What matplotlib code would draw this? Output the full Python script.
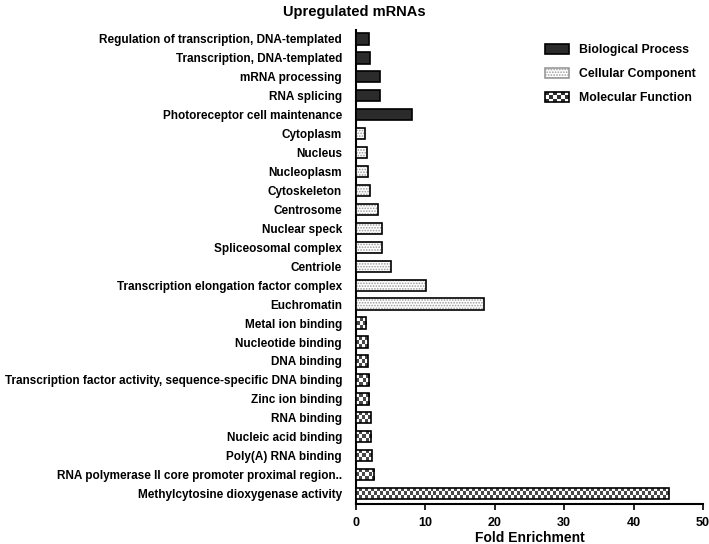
import numpy as np
import matplotlib
matplotlib.use("Agg")
import matplotlib.pyplot as plt
from matplotlib.patches import Patch, Rectangle
from matplotlib.legend_handler import HandlerBase

plt.rcParams['font.family'] = ['Liberation Sans', 'DejaVu Sans']
plt.rcParams['font.weight'] = 'bold'
plt.rcParams['hatch.linewidth'] = 0.8

categories = [
    "Regulation of transcription, DNA-templated",
    "Transcription, DNA-templated",
    "mRNA processing",
    "RNA splicing",
    "Photoreceptor cell maintenance",
    "Cytoplasm",
    "Nucleus",
    "Nucleoplasm",
    "Cytoskeleton",
    "Centrosome",
    "Nuclear speck",
    "Spliceosomal complex",
    "Centriole",
    "Transcription elongation factor complex",
    "Euchromatin",
    "Metal ion binding",
    "Nucleotide binding",
    "DNA binding",
    "Transcription factor activity, sequence-specific DNA binding",
    "Zinc ion binding",
    "RNA binding",
    "Nucleic acid binding",
    "Poly(A) RNA binding",
    "RNA polymerase II core promoter proximal region..",
    "Methylcytosine dioxygenase activity",
]
fold_enrichment = [1.9, 2.0, 3.4, 3.4, 8.0,
                   1.3, 1.6, 1.7, 2.0, 3.1, 3.7, 3.8, 5.0, 10.1, 18.4,
                   1.5, 1.7, 1.7, 1.9, 1.9, 2.1, 2.2, 2.3, 2.6, 45.1]
groups = ["BP"] * 5 + ["CC"] * 10 + ["MF"] * 10
group_names = {"BP": "Biological Process", "CC": "Cellular Component", "MF": "Molecular Function"}

fig = plt.figure(figsize=(7.09, 5.44), dpi=100)
ax = fig.add_axes([356/709, 1 - 504/544, 347/709, 474/544])

y = np.arange(len(categories))

for yi, v, g in zip(y, fold_enrichment, groups):
    if g == "BP":
        ax.barh(yi, v, height=0.6, color="#2b2b2b", edgecolor="black", linewidth=1.2, zorder=3)
    elif g == "CC":
        ax.barh(yi, v, height=0.6, color="white", edgecolor="#9a9a9a", hatch="......", linewidth=0, zorder=3)
        ax.barh(yi, v, height=0.6, fill=False, edgecolor="black", linewidth=1.2, zorder=4)
    else:
        bars = ax.barh(yi, v, height=0.6, color="white", edgecolor="black", linewidth=1.2, zorder=4, fill=False)
        p = bars[0]
        x0, y0, w, h = p.get_x(), p.get_y(), p.get_width(), p.get_height()
        sq = 0.43
        nx = max(1, int(round(w / sq)))
        ny = 3
        arr = np.indices((ny, nx)).sum(axis=0) % 2
        im = ax.imshow(arr, cmap="gray_r", vmin=0, vmax=1.4, extent=(x0, x0 + w, y0 + h, y0),
                       aspect="auto", interpolation="nearest", zorder=3)
        im.set_clip_path(p)


class CheckerHandler(HandlerBase):
    def create_artists(self, legend, orig_handle, xdescent, ydescent, width, height, fontsize, trans):
        arts = []
        nx, ny = 6, 3
        dx, dy = width / nx, height / ny
        for i in range(nx):
            for j in range(ny):
                col = "#333333" if (i + j) % 2 == 0 else "white"
                arts.append(Rectangle((-xdescent + i * dx, -ydescent + j * dy), dx, dy,
                                      facecolor=col, edgecolor="none", transform=trans))
        arts.append(Rectangle((-xdescent, -ydescent), width, height, facecolor="none",
                              edgecolor="black", linewidth=1.2, transform=trans))
        return arts


ax.set_xlim(0, 50)
ax.set_ylim(len(categories) - 1 + 0.55, -0.47)
ax.set_aspect("auto")
ax.set_yticks(y)
ax.set_yticklabels(categories, fontsize=8.5, fontweight="bold")
ax.set_xticks([0, 10, 20, 30, 40, 50])
ax.tick_params(axis="x", labelsize=9, width=1.2, length=4, pad=5)
ax.tick_params(axis="y", length=0, pad=10)
for t in ax.get_xticklabels():
    t.set_fontweight("bold")
ax.spines["top"].set_visible(False)
ax.spines["right"].set_visible(False)
ax.spines["left"].set_linewidth(1.5)
ax.spines["bottom"].set_linewidth(1.5)
ax.set_xlabel("Fold Enrichment", fontsize=10, fontweight="bold", labelpad=2)
fig.text(0.5, 1 - 12/544, "Upregulated mRNAs", ha="center", va="center", fontsize=10.5, fontweight="bold")

mf_handle = Patch(facecolor="white", edgecolor="black")
handles = [
    Patch(facecolor="#2b2b2b", edgecolor="black", linewidth=1.2),
    Patch(facecolor="white", edgecolor="#9a9a9a", hatch="......", linewidth=1.2),
    mf_handle,
]
leg = fig.legend(handles, [group_names[k] for k in ["BP", "CC", "MF"]], loc="upper left",
                 bbox_to_anchor=(545 / 709, 1 - 44 / 544), frameon=False, fontsize=8.8,
                 handlelength=1.95, handleheight=0.9, labelspacing=0.95, handletextpad=0.85,
                 borderpad=0, borderaxespad=0,
                 handler_map={mf_handle: CheckerHandler()})
for t in leg.get_texts():
    t.set_fontweight("bold")

fig.savefig("out.png", dpi=100)
